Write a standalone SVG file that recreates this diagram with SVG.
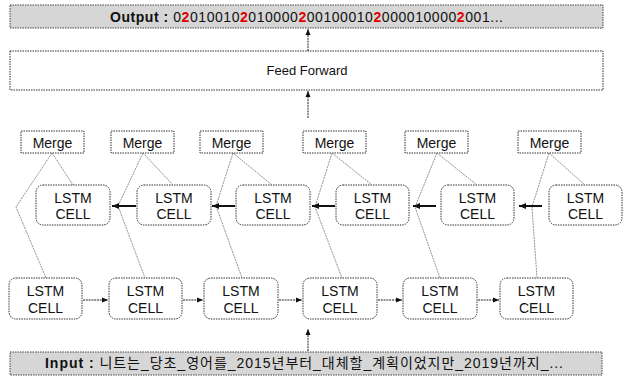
<svg xmlns="http://www.w3.org/2000/svg" width="625" height="376" viewBox="0 0 625 376">
<style>
text{font-family:"Liberation Sans","Noto Sans CJK KR",sans-serif;fill:#111;}
.box{fill:#fff;stroke:#333;stroke-width:1;stroke-dasharray:1.5 1;}
.io{fill:#d6d6d6;stroke:#444;stroke-width:1;stroke-dasharray:1.5 1;}
.cell{fill:#fff;stroke:#333;stroke-width:1;stroke-dasharray:1.5 1;}
.lbl{font-size:14px;text-anchor:middle;}
.thin{stroke:#777;stroke-width:0.8;fill:none;stroke-dasharray:2 0.8;}
.fw{stroke:#222;stroke-width:1;fill:none;stroke-dasharray:2 0.8;}
.bw{stroke:#111;stroke-width:2;fill:none;}
.r{fill:#e00000;font-weight:bold;}
</style>
<defs>
<marker id="ah" markerUnits="userSpaceOnUse" markerWidth="6" markerHeight="6" refX="6" refY="3" orient="auto"><path d="M0,0.5 L6,3 L0,5.5 Z" fill="#111"/></marker>
<marker id="ahb" markerUnits="userSpaceOnUse" markerWidth="7" markerHeight="7" refX="7" refY="3.5" orient="auto"><path d="M0,0.5 L7,3.5 L0,6.5 Z" fill="#111"/></marker>
</defs>

<g id="output">
<rect class="io" x="10" y="5" width="593" height="23"/>
<text x="110" y="22" font-size="14" textLength="393" lengthAdjust="spacing"><tspan font-weight="bold">Output : </tspan>0<tspan class="r">2</tspan>010010<tspan class="r">2</tspan>010000<tspan class="r">2</tspan>00100010<tspan class="r">2</tspan>000010000<tspan class="r">2</tspan>001...</text>
</g>

<g id="feedforward">
<rect class="box" x="10" y="51" width="593" height="39"/>
<text x="307" y="75" text-anchor="middle" font-size="13">Feed Forward</text>
</g>

<g id="merge1"><rect class="box" x="21" y="131" width="63" height="22"/><text class="lbl" x="52.5" y="147.5">Merge</text></g>
<g id="merge2"><rect class="box" x="111" y="131" width="63" height="22"/><text class="lbl" x="142.5" y="147.5">Merge</text></g>
<g id="merge3"><rect class="box" x="200" y="131" width="63" height="22"/><text class="lbl" x="231.5" y="147.5">Merge</text></g>
<g id="merge4"><rect class="box" x="303" y="131" width="63" height="22"/><text class="lbl" x="334.5" y="147.5">Merge</text></g>
<g id="merge5"><rect class="box" x="405" y="131" width="63" height="22"/><text class="lbl" x="436.5" y="147.5">Merge</text></g>
<g id="merge6"><rect class="box" x="518" y="131" width="63" height="22"/><text class="lbl" x="549.5" y="147.5">Merge</text></g>

<g id="upper1"><rect class="cell" x="36" y="185" width="74" height="40" rx="7"/><text class="lbl" x="73" y="202.5">LSTM</text><text class="lbl" x="73" y="219">CELL</text></g>
<g id="upper2"><rect class="cell" x="137" y="185" width="74" height="40" rx="7"/><text class="lbl" x="174" y="202.5">LSTM</text><text class="lbl" x="174" y="219">CELL</text></g>
<g id="upper3"><rect class="cell" x="236" y="185" width="74" height="40" rx="7"/><text class="lbl" x="273" y="202.5">LSTM</text><text class="lbl" x="273" y="219">CELL</text></g>
<g id="upper4"><rect class="cell" x="336" y="185" width="73" height="40" rx="7"/><text class="lbl" x="372.5" y="202.5">LSTM</text><text class="lbl" x="372.5" y="219">CELL</text></g>
<g id="upper5"><rect class="cell" x="441" y="185" width="73" height="40" rx="7"/><text class="lbl" x="477.5" y="202.5">LSTM</text><text class="lbl" x="477.5" y="219">CELL</text></g>
<g id="upper6"><rect class="cell" x="549" y="185" width="73" height="40" rx="7"/><text class="lbl" x="585.5" y="202.5">LSTM</text><text class="lbl" x="585.5" y="219">CELL</text></g>

<g id="lower1"><rect class="cell" x="9" y="278" width="73" height="41" rx="7"/><text class="lbl" x="45.5" y="296">LSTM</text><text class="lbl" x="45.5" y="312.5">CELL</text></g>
<g id="lower2"><rect class="cell" x="109" y="278" width="73" height="41" rx="7"/><text class="lbl" x="145.5" y="296">LSTM</text><text class="lbl" x="145.5" y="312.5">CELL</text></g>
<g id="lower3"><rect class="cell" x="204" y="278" width="74" height="41" rx="7"/><text class="lbl" x="241" y="296">LSTM</text><text class="lbl" x="241" y="312.5">CELL</text></g>
<g id="lower4"><rect class="cell" x="303" y="278" width="74" height="41" rx="7"/><text class="lbl" x="340" y="296">LSTM</text><text class="lbl" x="340" y="312.5">CELL</text></g>
<g id="lower5"><rect class="cell" x="403" y="278" width="74" height="41" rx="7"/><text class="lbl" x="440" y="296">LSTM</text><text class="lbl" x="440" y="312.5">CELL</text></g>
<g id="lower6"><rect class="cell" x="500" y="278" width="73" height="41" rx="7"/><text class="lbl" x="536.5" y="296">LSTM</text><text class="lbl" x="536.5" y="312.5">CELL</text></g>

<g id="input">
<rect class="io" x="10" y="352" width="592" height="23"/>
<text x="45" y="368" font-size="14" textLength="518" lengthAdjust="spacing"><tspan font-weight="bold">Input : </tspan>니트는_당초_영어를_2015년부터_대체할_계획이었지만_2019년까지_...</text>
</g>

<g id="connectors">
<line class="fw" x1="308" y1="51" x2="308" y2="29" marker-end="url(#ah)"/>
<line class="fw" x1="308" y1="118" x2="308" y2="91" marker-end="url(#ah)"/>
<line class="fw" x1="308" y1="351" x2="308" y2="329" marker-end="url(#ah)"/>

<line class="thin" x1="52" y1="153" x2="73" y2="185"/>
<polyline class="thin" points="52,153 16,207 46,278"/>
<line class="thin" x1="143" y1="153" x2="173" y2="185"/>
<polyline class="thin" points="143,153 118,206 145,278"/>
<line class="thin" x1="233" y1="153" x2="272" y2="185"/>
<polyline class="thin" points="233,153 216,206 242,278"/>
<line class="thin" x1="332" y1="153" x2="372" y2="185"/>
<polyline class="thin" points="332,153 315,207 342,278"/>
<line class="thin" x1="437" y1="153" x2="477" y2="185"/>
<polyline class="thin" points="437,153 415,207 440,278"/>
<line class="thin" x1="549" y1="153" x2="585" y2="185"/>
<polyline class="thin" points="549,153 532,207 537,278"/>

<line class="bw" x1="136" y1="206" x2="112" y2="206" marker-end="url(#ahb)"/>
<line class="bw" x1="235" y1="206" x2="212" y2="206" marker-end="url(#ahb)"/>
<line class="bw" x1="335" y1="206" x2="312" y2="206" marker-end="url(#ahb)"/>
<line class="bw" x1="436" y1="206" x2="413" y2="206" marker-end="url(#ahb)"/>
<line class="bw" x1="542" y1="206" x2="519" y2="206" marker-end="url(#ahb)"/>

<line class="fw" x1="83" y1="300" x2="108" y2="300" marker-end="url(#ah)"/>
<line class="fw" x1="183" y1="300" x2="203" y2="300" marker-end="url(#ah)"/>
<line class="fw" x1="279" y1="300" x2="302" y2="300" marker-end="url(#ah)"/>
<line class="fw" x1="378" y1="300" x2="402" y2="300" marker-end="url(#ah)"/>
<line class="fw" x1="478" y1="300" x2="499" y2="300" marker-end="url(#ah)"/>
</g>
</svg>
